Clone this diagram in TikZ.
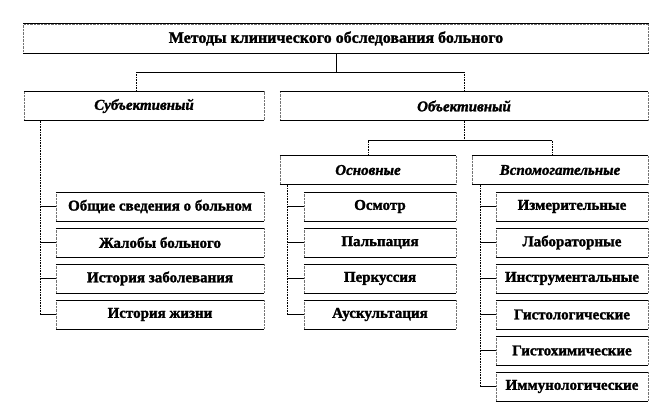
\documentclass[tikz,border=0pt]{standalone}
\usepackage{fontspec}
\setmainfont{Liberation Serif}[
  BoldFont={Liberation Serif Bold}, BoldFeatures={FakeBold=1.6},
  BoldItalicFont={Liberation Serif Bold Italic}, BoldItalicFeatures={FakeBold=1.6}]
\usetikzlibrary{positioning}

\begin{document}
\begin{tikzpicture}[%
  x=1pt, y=-1pt,
  box/.style={draw=black!55, densely dotted, fill=white, inner sep=0pt,
    font=\fontsize{15}{17}\selectfont\bfseries, minimum height=29pt},
  head/.style={box, font=\fontsize{15}{17}\selectfont\bfseries\itshape},
  link/.style={draw=black, line width=.6pt}]
\useasboundingbox (0,0) rectangle (672,420);
% верхний уровень
\node[box, minimum width=625pt, font=\fontsize{16}{18}\selectfont\bfseries] (top) at (336,38.5) {Методы клинического обследования больного};
\node[head, minimum width=240pt] (subj) at (144,106) {Субъективный};
\node[head, minimum width=368pt] (obj) at (464,106) {Объективный};
\node[head, minimum width=176pt] (main) at (368,170) {Основные};
\node[head, minimum width=176pt] (aux) at (560,170) {Вспомогательные};
% подчинённые
\foreach \txt [count=\i] in {Общие сведения о больном, Жалобы больного,
    История заболевания, История жизни}
  \node[box, minimum width=208pt] (s\i) at (160,170.5+36*\i) {\txt};
\foreach \txt [count=\i] in {Осмотр, Пальпация, Перкуссия, Аускультация}
  \node[box, minimum width=152pt] (m\i) at (380,170.5+36*\i) {\txt};
\foreach \txt [count=\i] in {Измерительные, Лабораторные, Инструментальные,
    Гистологические, Гистохимические, Иммунологические}
  \node[box, minimum width=152pt] (a\i) at (572,170.5+36*\i) {\txt};
% сплошные верх и низ рамок
\foreach \n in {top,subj,obj,main,aux,s1,s2,s3,s4,m1,m2,m3,m4,a1,a2,a3,a4,a5,a6}
  \draw[link] (\n.north west) -- (\n.north east) (\n.south west) -- (\n.south east);
% связи
\draw[link] (top.south) -- ++(0,19) coordinate (t1);
\draw[link] ([xshift=-8pt]subj.north |- t1) -- (obj.north |- t1);
\draw[link, densely dotted] ([xshift=-8pt]subj.north |- t1) -- ([xshift=-8pt]subj.north);
\draw[link, densely dotted] (obj.north |- t1) -- (obj.north);
\draw[link, densely dotted] (obj.south) -- ++(0,20) coordinate (t2);
\draw[link] (main.north |- t2) -- ([xshift=-8pt]aux.north |- t2);
\draw[link, densely dotted] (main.north |- t2) -- (main.north);
\draw[link, densely dotted] ([xshift=-8pt]aux.north |- t2) -- ([xshift=-8pt]aux.north);
\draw[link, densely dotted] (40,0 |- subj.south) coordinate (ls) -- (ls |- s4.west);
\foreach \i in {1,...,4}
  \draw[link] (ls |- s\i.west) -- (s\i.west);
\draw[link, densely dotted] (287,0 |- main.south) coordinate (lm) -- (lm |- m4.west);
\foreach \i in {1,...,4}
  \draw[link] (lm |- m\i.west) -- (m\i.west);
\draw[link, densely dotted] (480,0 |- aux.south) coordinate (la) -- (la |- a6.west);
\foreach \i in {1,...,6}
  \draw[link] (la |- a\i.west) -- (a\i.west);
\end{tikzpicture}
\end{document}
